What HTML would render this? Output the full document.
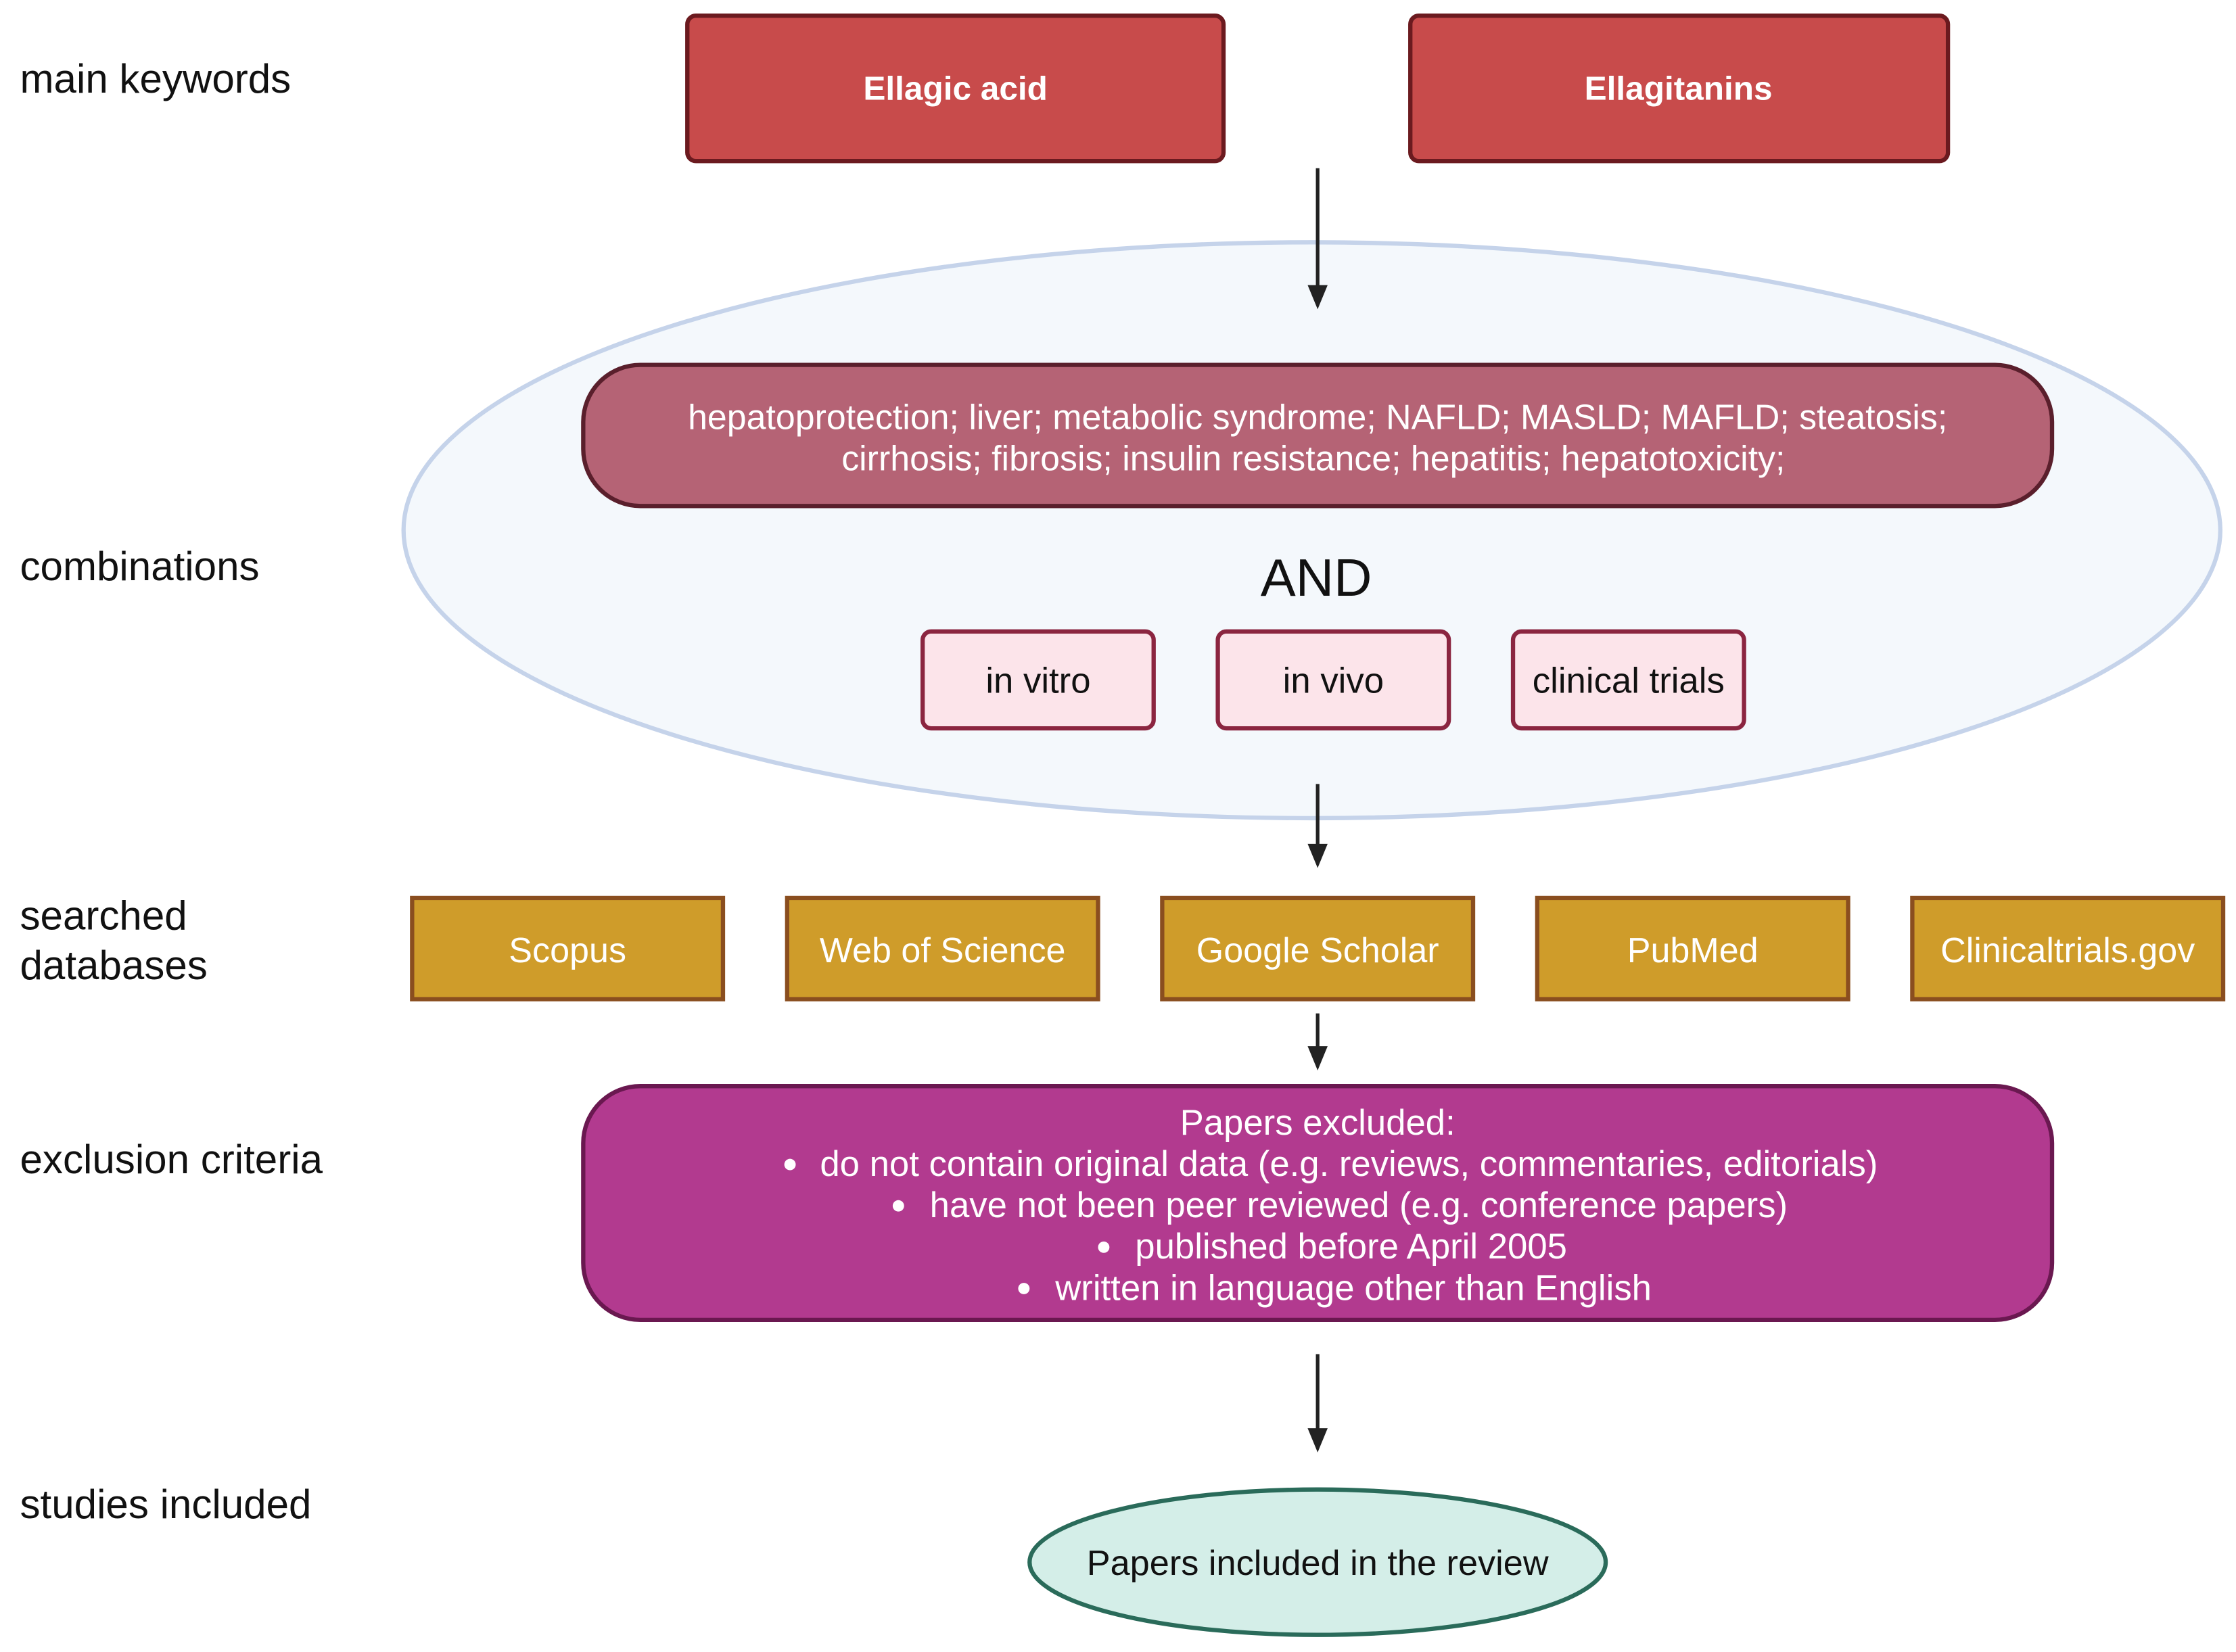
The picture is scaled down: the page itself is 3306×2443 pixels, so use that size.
<!DOCTYPE html>
<html><head><meta charset="utf-8"><style>
html,body{margin:0;padding:0;background:#fff;}
svg{display:block;}
text{font-family:"Liberation Sans",Arial,sans-serif;}
</style></head><body>
<svg width="3306" height="2443" viewBox="0 0 1568 1159" preserveAspectRatio="none" xmlns="http://www.w3.org/2000/svg">
<rect width="1568" height="1159" fill="#fff"/>
<!-- left labels -->
<g font-size="28.5" fill="#111">
<text x="14" y="65">main keywords</text>
<text x="14" y="407">combinations</text>
<text x="14" y="652">searched</text>
<text x="14" y="687">databases</text>
<text x="14" y="823">exclusion criteria</text>
<text x="14" y="1065">studies included</text>
</g>
<!-- main keywords -->
<rect x="482" y="11" width="376" height="102" rx="6" fill="#c84b4b" stroke="#6b1a1f" stroke-width="3"/>
<rect x="989" y="11" width="377" height="102" rx="6" fill="#c84b4b" stroke="#6b1a1f" stroke-width="3"/>
<g font-size="23.5" font-weight="bold" fill="#fff" text-anchor="middle">
<text x="670" y="70">Ellagic acid</text>
<text x="1177" y="70">Ellagitanins</text>
</g>
<!-- big ellipse -->
<ellipse cx="920" cy="372" rx="637" ry="202" fill="#f4f8fc" stroke="#c5d3ea" stroke-width="3"/>
<line x1="924" y1="118" x2="924" y2="205" stroke="#222" stroke-width="2.5"/>
<path d="M917,200 L931,200 L924,217 Z" fill="#222"/>
<rect x="409" y="256" width="1030" height="99" rx="40" fill="#b56375" stroke="#5a1f2c" stroke-width="3"/>
<g font-size="24.6" fill="#fff" text-anchor="middle">
<text x="924" y="301">hepatoprotection; liver; metabolic syndrome; NAFLD; MASLD; MAFLD; steatosis;</text>
<text x="921" y="330">cirrhosis; fibrosis; insulin resistance; hepatitis; hepatotoxicity;</text>
</g>
<text x="923" y="418" font-size="37" text-anchor="middle" fill="#111">AND</text>
<g fill="#fce4ea" stroke="#8b2540" stroke-width="3">
<rect x="647" y="443" width="162" height="68" rx="6"/>
<rect x="854" y="443" width="162" height="68" rx="6"/>
<rect x="1061" y="443" width="162" height="68" rx="6"/>
</g>
<g font-size="25" fill="#111" text-anchor="middle">
<text x="728" y="486">in vitro</text>
<text x="935" y="486">in vivo</text>
<text x="1142" y="486">clinical trials</text>
</g>
<!-- arrow 2 -->
<line x1="924" y1="550" x2="924" y2="596" stroke="#222" stroke-width="2.5"/>
<path d="M917,592 L931,592 L924,609 Z" fill="#222"/>
<!-- databases -->
<g fill="#cf9c2a" stroke="#8a4e1f" stroke-width="3">
<rect x="289" y="630" width="218" height="71"/>
<rect x="552" y="630" width="218" height="71"/>
<rect x="815" y="630" width="218" height="71"/>
<rect x="1078" y="630" width="218" height="71"/>
<rect x="1341" y="630" width="218" height="71"/>
</g>
<g font-size="24.7" fill="#fff" text-anchor="middle">
<text x="398" y="675">Scopus</text>
<text x="661" y="675">Web of Science</text>
<text x="924" y="675">Google Scholar</text>
<text x="1187" y="675">PubMed</text>
<text x="1450" y="675">Clinicaltrials.gov</text>
</g>
<!-- arrow 3 -->
<line x1="924" y1="711" x2="924" y2="738" stroke="#222" stroke-width="2.5"/>
<path d="M917,734 L931,734 L924,751 Z" fill="#222"/>
<!-- exclusion -->
<rect x="409" y="762" width="1030" height="164" rx="40" fill="#b23a8f" stroke="#6a1850" stroke-width="3"/>
<g font-size="25" fill="#fff">
<text x="924" y="796" text-anchor="middle">Papers excluded:</text>
<text x="575" y="825">do not contain original data (e.g. reviews, commentaries, editorials)</text>
<text x="652" y="854">have not been peer reviewed (e.g. conference papers)</text>
<text x="796" y="883">published before April 2005</text>
<text x="740" y="912">written in language other than English</text>
</g>
<g fill="#fff">
<circle cx="554" cy="817" r="4"/>
<circle cx="630" cy="846" r="4"/>
<circle cx="774" cy="875" r="4"/>
<circle cx="718" cy="904" r="4"/>
</g>
<!-- arrow 4 -->
<line x1="924" y1="950" x2="924" y2="1006" stroke="#222" stroke-width="2.5"/>
<path d="M917,1002 L931,1002 L924,1019 Z" fill="#222"/>
<!-- final -->
<ellipse cx="924" cy="1096" rx="202" ry="51" fill="#d4eee8" stroke="#2a6b5a" stroke-width="3"/>
<text x="924" y="1105" font-size="24.8" fill="#111" text-anchor="middle">Papers included in the review</text>
</svg>
</body></html>
